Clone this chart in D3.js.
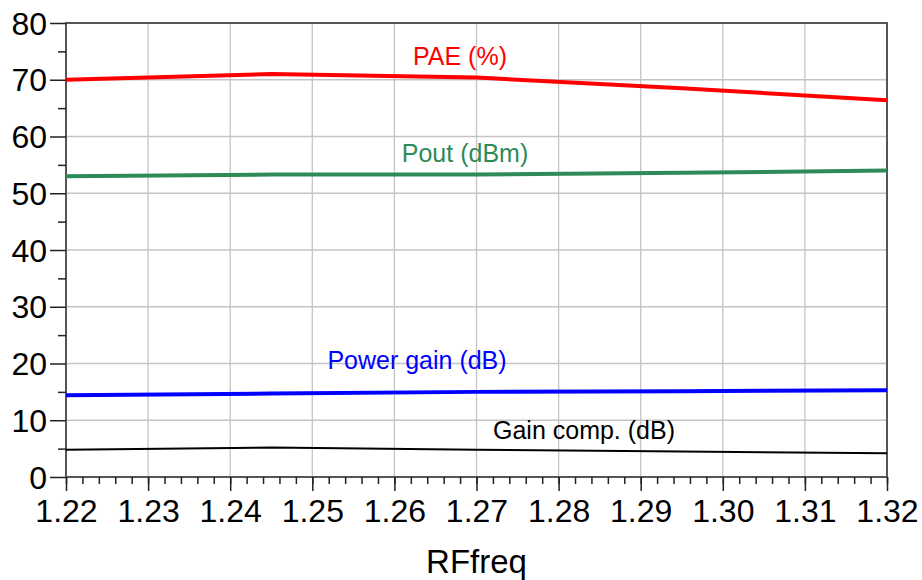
<!DOCTYPE html>
<html lang="en">
<head>
  <meta charset="UTF-8">
  <title>RF sweep</title>
  <script src="https://d3js.org/d3.v7.min.js"></script>
  <style>
    body { margin: 0; background: #fff; }
    svg { display: block; font-family: "Liberation Sans", Arial, sans-serif; }
    .grid line { stroke: #c4c4c4; stroke-width: 1.3px; }
  </style>
</head>
<body>
  <svg width="922" height="580"></svg>
  <script>
    const width = 922, height = 580;
    const margin = { top: 23, right: 35, bottom: 103, left: 66 };

    // frequency points (GHz)
    const freq = [1.22, 1.245, 1.27, 1.295, 1.32];
    // traces
    const pae = [70.0, 71.0, 70.4, 68.5, 66.4];
    const pout = [53.0, 53.3, 53.3, 53.6, 54.0];
    const powerGain = [14.4, 14.7, 15.0, 15.1, 15.3];
    const gainComp = [4.8, 5.2, 4.8, 4.5, 4.2];

    const xTicks = [1.22, 1.23, 1.24, 1.25, 1.26, 1.27, 1.28, 1.29, 1.30, 1.31, 1.32];
    const yTicks = [0, 10, 20, 30, 40, 50, 60, 70, 80];

    const series = [
      { name: "PAE (%)", values: pae, color: "#ff0000", width: 4, lx: 460, ly: 65 },
      { name: "Pout (dBm)", values: pout, color: "#2e8b57", width: 4, lx: 465, ly: 162 },
      { name: "Power gain (dB)", values: powerGain, color: "#0000ff", width: 4, lx: 417, ly: 369 },
      { name: "Gain comp. (dB)", values: gainComp, color: "#000000", width: 2, lx: 584, ly: 439 }
    ];

    const svg = d3.select("svg");
    const x = d3.scaleLinear().domain([1.22, 1.32]).range([margin.left, width - margin.right]);
    const y = d3.scaleLinear().domain([0, 80]).range([height - margin.bottom, margin.top]);

    // grid
    const grid = svg.append("g").attr("class", "grid");
    grid.selectAll(".v").data(xTicks).join("line")
      .attr("x1", d => x(d)).attr("x2", d => x(d))
      .attr("y1", y(80)).attr("y2", y(0));
    grid.selectAll(".h").data(yTicks).join("line")
      .attr("x1", x(1.22)).attr("x2", x(1.32))
      .attr("y1", d => y(d)).attr("y2", d => y(d));

    // frame
    svg.append("rect")
      .attr("x", x(1.22)).attr("y", y(80))
      .attr("width", x(1.32) - x(1.22)).attr("height", y(0) - y(80))
      .attr("fill", "none").attr("stroke", "#555").attr("stroke-width", 2);

    // x axis: major + minor ticks
    const xAxis = svg.append("g").attr("transform", `translate(0,${y(0)})`);
    xAxis.call(d3.axisBottom(x).tickValues(d3.range(0, 51).map(i => 1.22 + i * 0.002))
      .tickSize(7).tickFormat(""));
    xAxis.call(g => g.selectAll(".domain").remove());
    const xMajor = svg.append("g").attr("transform", `translate(0,${y(0)})`)
      .call(d3.axisBottom(x).tickValues(xTicks).tickSize(14).tickPadding(8).tickFormat(d3.format(".2f")));
    xMajor.select(".domain").remove();
    xMajor.selectAll("text").attr("font-size", 32).attr("fill", "#000").attr("font-family", null);

    // y axis
    const yAxis = svg.append("g").attr("transform", `translate(${x(1.22)},0)`);
    yAxis.call(d3.axisLeft(y).tickValues(d3.range(5, 80, 10)).tickSize(8).tickFormat(""));
    yAxis.select(".domain").remove();
    const yMajor = svg.append("g").attr("transform", `translate(${x(1.22)},0)`)
      .call(d3.axisLeft(y).tickValues(yTicks).tickSize(16).tickPadding(3));
    yMajor.select(".domain").remove();
    yMajor.selectAll("text").attr("font-size", 32).attr("fill", "#000").attr("font-family", null).attr("dy", "0.35em");
    svg.selectAll(".tick line").attr("stroke", "#222").attr("stroke-width", 1.5);

    // traces
    const line = d3.line().x((d, i) => x(freq[i])).y(d => y(d));
    svg.append("g").selectAll("path").data(series).join("path")
      .attr("d", d => line(d.values))
      .attr("fill", "none")
      .attr("stroke", d => d.color)
      .attr("stroke-width", d => d.width);

    svg.append("g").selectAll("text").data(series).join("text")
      .attr("x", d => d.lx).attr("y", d => d.ly)
      .attr("text-anchor", "middle")
      .attr("font-size", 25)
      .attr("fill", d => d.color)
      .text(d => d.name);

    // axis title
    svg.append("text")
      .attr("x", (x(1.22) + x(1.32)) / 2).attr("y", 573)
      .attr("text-anchor", "middle")
      .attr("font-size", 33)
      .text("RFfreq");
  </script>
</body>
</html>
